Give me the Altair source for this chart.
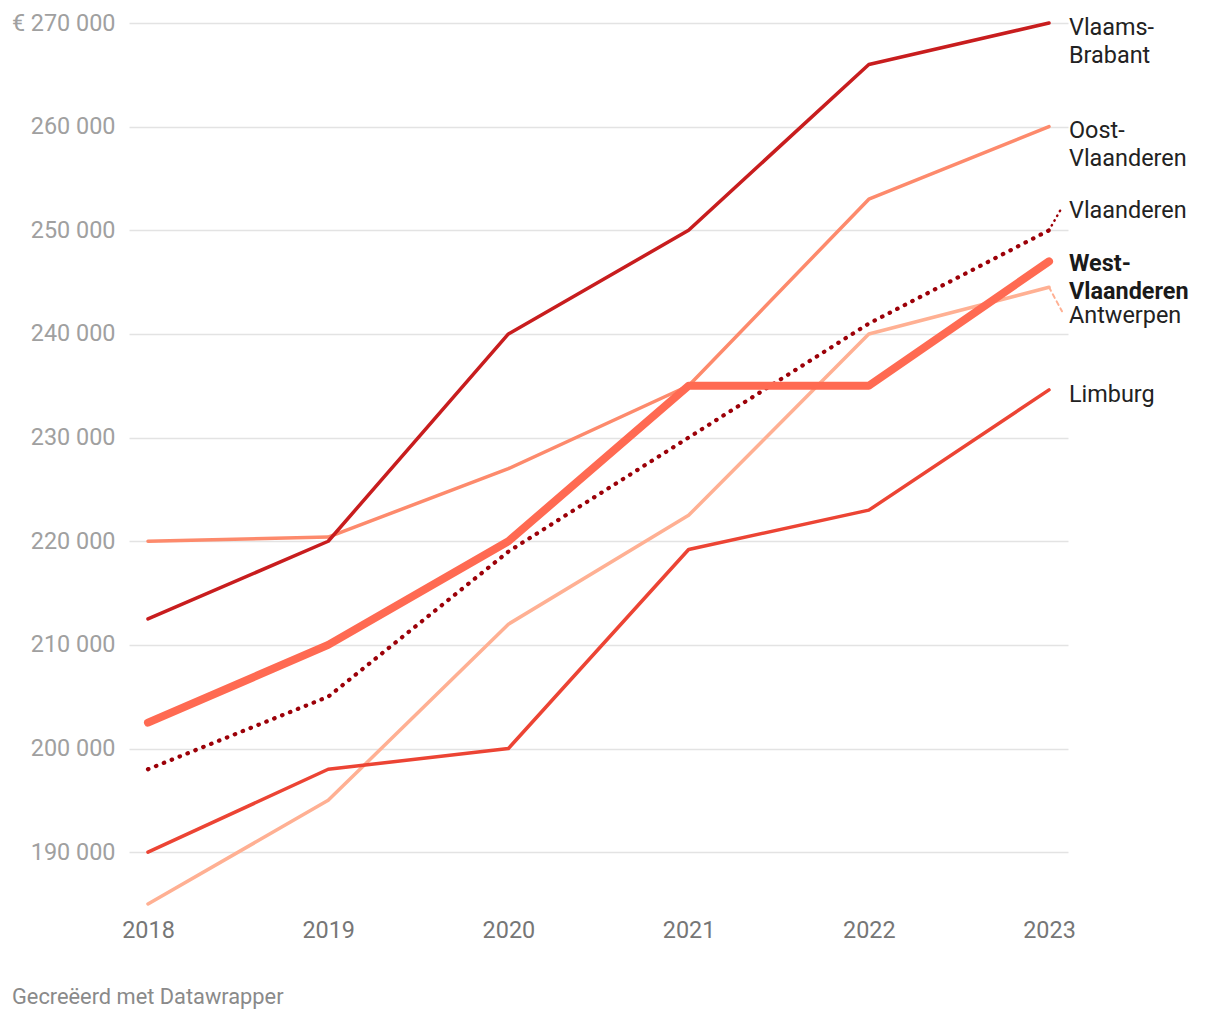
import altair as alt
import pandas as pd

# ---------------- data ----------------
years = [2018, 2019, 2020, 2021, 2022, 2023]
vlaams_brabant = [212500, 220000, 240000, 250000, 266000, 270000]
oost_vlaanderen = [220000, 220400, 227000, 235000, 253000, 260000]
vlaanderen = [198000, 205000, 219000, 230000, 241000, 250000]
west_vlaanderen = [202500, 210000, 220000, 235000, 235000, 247000]
antwerpen = [185000, 195000, 212000, 222500, 240000, 244500]
limburg = [190000, 198000, 200000, 219200, 223000, 234600]

# drawing order (bottom -> top)
series_names = ["Antwerpen", "Limburg", "Oost-Vlaanderen", "Vlaams-Brabant",
                "Vlaanderen", "West-Vlaanderen"]
series_values = [antwerpen, limburg, oost_vlaanderen, vlaams_brabant,
                 vlaanderen, west_vlaanderen]
label_texts = ["Antwerpen", "Limburg", "Oost-\nVlaanderen", "Vlaams-\nBrabant",
               "Vlaanderen", "West-\nVlaanderen"]
y_ticks = [190000, 200000, 210000, 220000, 230000, 240000, 250000, 260000, 270000]
footer = "Gecreëerd met Datawrapper"

# ---------------- styling ----------------
styles = {
    "Antwerpen":       dict(color="#ffb093", width=3.5, dash=None),
    "Limburg":         dict(color="#ec4434", width=3.5, dash=None),
    "Oost-Vlaanderen": dict(color="#fd8a6c", width=3.5, dash=None),
    "Vlaams-Brabant":  dict(color="#c81d1e", width=3.5, dash=None),
    "Vlaanderen":      dict(color="#9c0008", width=4.2, dash=[0.5, 8.0]),
    "West-Vlaanderen": dict(color="#ff6a52", width=8, dash=None),
}
# label layout: pixel offset of label line centre from line end
label_shift = {"Antwerpen": 28, "Limburg": 4, "Oost-Vlaanderen": 4,
               "Vlaams-Brabant": 4, "Vlaanderen": -20, "West-Vlaanderen": 2}
connectors = {"Vlaanderen": dict(dy=-23, color="#9c0008", width=2.5, dash=[0.5, 5]),
              "Antwerpen": dict(dy=24, color="#ffb093", width=2, dash=[4, 4])}

FONT = "Roboto"
W, H = 939, 881
x_dom = [2017.8946, 2023.1054]
y_dom = [185000, 270000]
px_per_year = W / (x_dom[1] - x_dom[0])
px_per_unit = H / (y_dom[1] - y_dom[0])
FS = 23.4

x_enc = alt.X("year:Q",
              scale=alt.Scale(domain=x_dom, nice=False, zero=False),
              axis=alt.Axis(values=years, format="d", grid=False, domain=False,
                            ticks=False, tickSize=0, labelPadding=15, title=None,
                            labelColor="#767676", labelFontSize=FS, labelFont=FONT,
                            labelFlush=False))
y_enc = alt.Y("value:Q",
              scale=alt.Scale(domain=y_dom, nice=False, zero=False),
              axis=alt.Axis(values=y_ticks, grid=True, domain=False, ticks=False,
                            tickSize=0, labelPadding=14, title=None,
                            gridColor="#e3e3e3", gridWidth=1.5,
                            labelColor="#a0a0a0", labelFontSize=FS, labelFont=FONT,
                            labelExpr="datum.value == 270000 ? '€ 270 000' : replace(format(datum.value, ','), ',', ' ')"))

layers = []
for name, vals in zip(series_names, series_values):
    st = styles[name]
    df = pd.DataFrame({"year": years, "value": vals, "serie": name})
    kw = dict(color=st["color"], strokeWidth=st["width"], strokeJoin="round",
              strokeCap="round")
    if st["dash"]:
        kw["strokeDash"] = st["dash"]
    layers.append(alt.Chart(df).mark_line(**kw).encode(x=x_enc, y=y_enc))

# connectors from line ends to displaced labels
for name, c in connectors.items():
    end = series_values[series_names.index(name)][-1]
    df = pd.DataFrame({"year": [years[-1], years[-1] + 13 / px_per_year],
                       "value": [end, end - c["dy"] / px_per_unit]})
    layers.append(alt.Chart(df).mark_line(color=c["color"], strokeWidth=c["width"],
                                          strokeDash=c["dash"], strokeCap="round")
                  .encode(x=x_enc, y=y_enc))

# labels
for name, vals, txt in zip(series_names, series_values, label_texts):
    df = pd.DataFrame({"year": [years[-1]], "value": [vals[-1]], "label": [txt]})
    bold = name == "West-Vlaanderen"
    layers.append(alt.Chart(df).mark_text(
        align="left", baseline="top", dx=20, dy=label_shift[name] - 0.435 * FS,
        font=FONT, fontSize=FS, lineHeight=28, lineBreak="\n",
        fontWeight="bold" if bold else "normal",
        color="#1a1a1a" if bold else "#222222",
    ).encode(x=x_enc, y=y_enc, text="label:N"))

# footer credit
layers.append(alt.Chart(pd.DataFrame({"t": [footer]})).mark_text(
    align="left", baseline="middle", font=FONT, fontSize=21.8, color="#8a8a8a",
).encode(x=alt.value(-117), y=alt.value(H + 93), text="t:N"))

chart = alt.layer(*layers).properties(
    width=W, height=H,
    autosize=alt.AutoSizeParams(type="none"),
    padding={"left": 121, "top": 15, "right": 140, "bottom": 110},
).configure_view(stroke=None)

chart.save("out.html", embed_options={"renderer": "svg", "actions": False})
